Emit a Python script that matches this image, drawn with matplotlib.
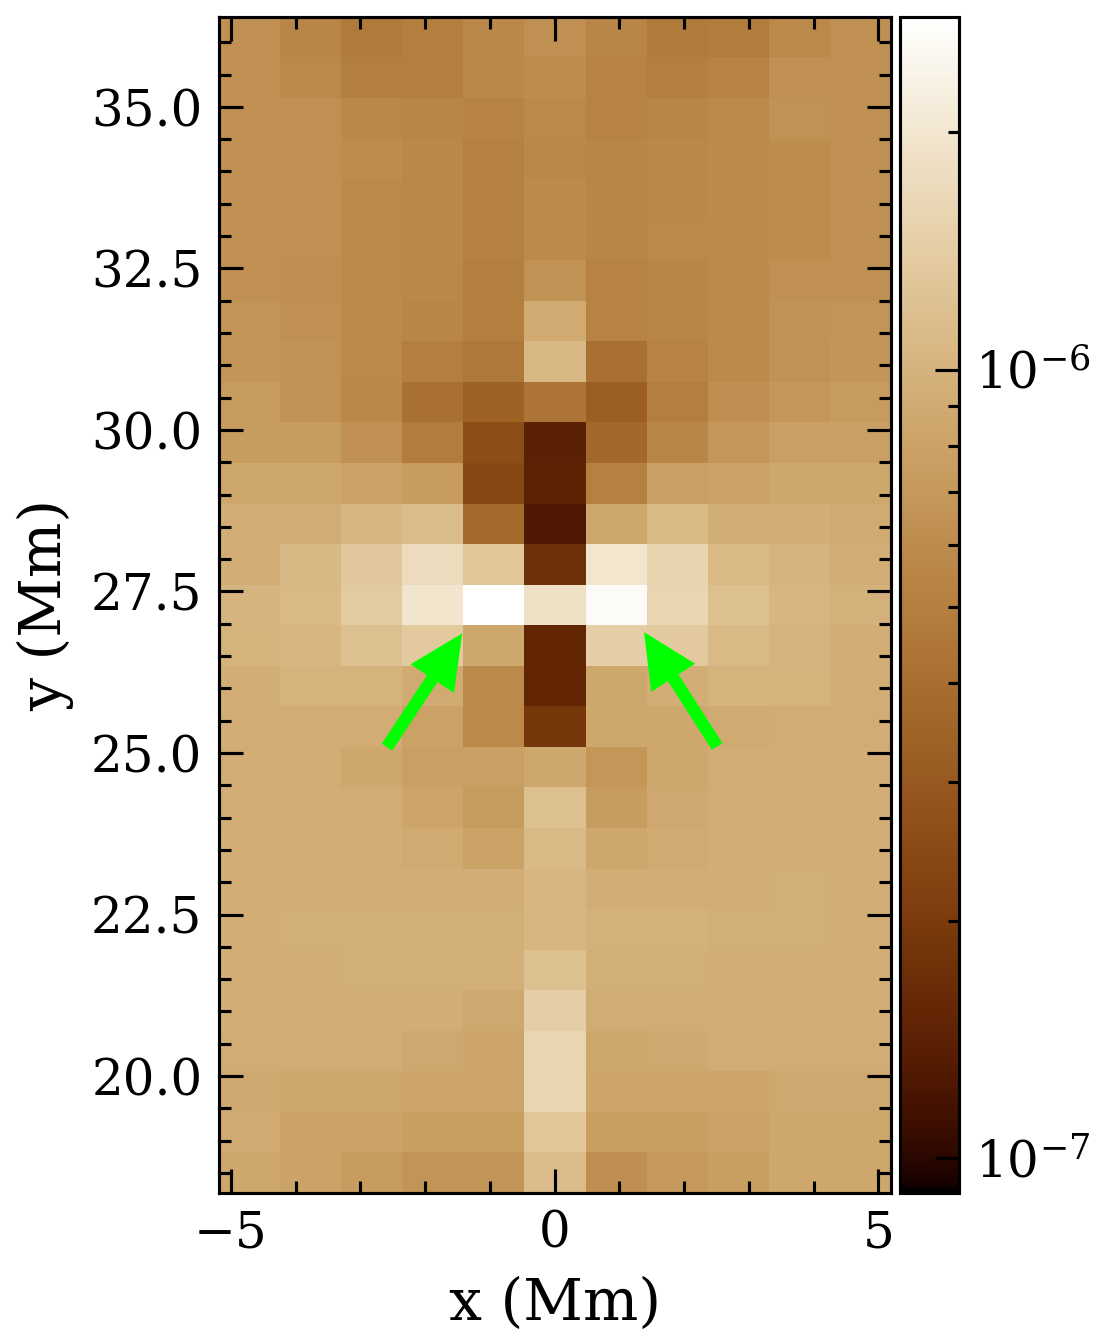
import numpy as np
import matplotlib
matplotlib.use("Agg")
import matplotlib.pyplot as plt
from matplotlib.colors import LogNorm, ListedColormap
from matplotlib.ticker import MultipleLocator, LogLocator, NullFormatter

# log10(intensity), rows from the top of the map to the bottom
log_intensity = [
    [-6.20, -6.26, -6.33, -6.31, -6.25, -6.20, -6.26, -6.33, -6.32, -6.24, -6.20],
    [-6.20, -6.24, -6.30, -6.30, -6.25, -6.22, -6.28, -6.30, -6.28, -6.20, -6.20],
    [-6.20, -6.20, -6.25, -6.26, -6.28, -6.24, -6.28, -6.26, -6.24, -6.19, -6.20],
    [-6.20, -6.20, -6.22, -6.25, -6.29, -6.25, -6.26, -6.25, -6.23, -6.22, -6.20],
    [-6.20, -6.20, -6.23, -6.25, -6.29, -6.23, -6.26, -6.25, -6.23, -6.22, -6.20],
    [-6.20, -6.20, -6.23, -6.25, -6.29, -6.23, -6.26, -6.24, -6.23, -6.22, -6.20],
    [-6.20, -6.21, -6.23, -6.25, -6.30, -6.19, -6.28, -6.26, -6.23, -6.20, -6.20],
    [-6.18, -6.20, -6.23, -6.26, -6.30, -6.05, -6.28, -6.26, -6.23, -6.19, -6.18],
    [-6.17, -6.19, -6.24, -6.31, -6.34, -5.97, -6.39, -6.28, -6.23, -6.19, -6.17],
    [-6.14, -6.19, -6.25, -6.39, -6.47, -6.36, -6.49, -6.31, -6.21, -6.16, -6.14],
    [-6.13, -6.13, -6.20, -6.32, -6.59, -6.85, -6.43, -6.26, -6.16, -6.11, -6.11],
    [-6.07, -6.07, -6.09, -6.13, -6.62, -6.84, -6.29, -6.11, -6.09, -6.07, -6.07],
    [-6.03, -6.04, -5.98, -5.94, -6.42, -6.90, -6.07, -5.96, -6.03, -6.03, -6.05],
    [-6.03, -5.97, -5.88, -5.76, -5.89, -6.76, -5.70, -5.81, -5.96, -5.99, -6.04],
    [-5.99, -5.96, -5.86, -5.71, -5.55, -5.73, -5.58, -5.80, -5.92, -5.98, -6.01],
    [-6.00, -5.98, -5.92, -5.87, -6.07, -6.82, -5.84, -5.87, -5.96, -5.99, -6.03],
    [-6.03, -6.00, -6.00, -6.05, -6.24, -6.82, -6.07, -6.03, -6.00, -6.00, -6.04],
    [-6.03, -6.04, -6.04, -6.10, -6.24, -6.72, -6.07, -6.07, -6.05, -6.04, -6.04],
    [-6.04, -6.04, -6.07, -6.11, -6.11, -6.07, -6.16, -6.07, -6.04, -6.03, -6.03],
    [-6.04, -6.03, -6.04, -6.08, -6.14, -5.92, -6.13, -6.06, -6.04, -6.03, -6.03],
    [-6.03, -6.03, -6.03, -6.05, -6.10, -5.96, -6.07, -6.05, -6.03, -6.03, -6.03],
    [-6.03, -6.03, -6.03, -6.03, -6.03, -5.98, -6.03, -6.03, -6.03, -6.02, -6.03],
    [-6.03, -6.02, -6.02, -6.02, -6.02, -5.98, -6.01, -6.01, -6.02, -6.02, -6.03],
    [-6.03, -6.03, -6.02, -6.02, -6.02, -5.92, -6.02, -6.02, -6.03, -6.03, -6.03],
    [-6.03, -6.03, -6.03, -6.03, -6.06, -5.84, -6.04, -6.04, -6.03, -6.03, -6.03],
    [-6.04, -6.04, -6.04, -6.06, -6.08, -5.80, -6.07, -6.06, -6.04, -6.04, -6.04],
    [-6.06, -6.07, -6.07, -6.08, -6.08, -5.80, -6.08, -6.08, -6.08, -6.06, -6.06],
    [-6.05, -6.09, -6.09, -6.12, -6.12, -5.89, -6.12, -6.12, -6.09, -6.07, -6.07],
    [-6.07, -6.09, -6.13, -6.18, -6.18, -5.95, -6.21, -6.15, -6.12, -6.07, -6.07],
]
x_ticks = [-5, 0, 5]
y_ticks = [20.0, 22.5, 25.0, 27.5, 30.0, 32.5, 35.0]
x_limits = (-5.19, 5.19)
y_limits = (18.19, 36.39)
color_limits = (9.03e-8, 2.8e-6)
arrow_tails = [(-2.59, 25.09), (2.51, 25.10)]
arrow_tips = [(-1.43, 26.85), (1.38, 26.87)]

W, H = 1101, 1343
plt.rcParams["font.family"] = "DejaVu Serif"
plt.rcParams["mathtext.fontset"] = "dejavuserif"

# SDO/AIA 193-style gold colour table
c0 = np.arange(256.0)
cmap = ListedColormap(np.c_[np.sqrt(c0 * 255), c0, c0 ** 2 / 255] / 255)

fig = plt.figure(figsize=(W / 300, H / 300), dpi=300)


def box(l, t, r, b):
    return [l / W, 1 - b / H, (r - l) / W, (b - t) / H]


ax = fig.add_axes(box(218.7, 17, 890.7, 1193))
cax = fig.add_axes(box(899.5, 17, 958.6, 1193))

im = ax.imshow(10.0 ** np.array(log_intensity), cmap=cmap,
               norm=LogNorm(*color_limits), origin="upper",
               extent=[*x_limits, *y_limits], aspect="auto",
               interpolation="nearest")
ax.set_xlim(*x_limits)
ax.set_ylim(*y_limits)
ax.set_xticks(x_ticks)
ax.set_yticks(y_ticks)
ax.set_yticklabels([f"{v:.1f}" for v in y_ticks])
ax.xaxis.set_minor_locator(MultipleLocator(1))
ax.yaxis.set_minor_locator(MultipleLocator(0.5))
ax.tick_params(which="both", direction="in", top=True, right=True, width=0.75, labelsize=12)
ax.tick_params(which="major", length=5.8, pad=3.9)
ax.tick_params(which="minor", length=2.9)
ax.set_xlabel("x (Mm)", fontsize=14, labelpad=4.1)
ax.set_ylabel("y (Mm)", fontsize=14, labelpad=4.0)
for s in ax.spines.values():
    s.set_linewidth(0.75)

for tail, tip in zip(arrow_tails, arrow_tips):
    ax.annotate("", xy=tip, xytext=tail,
                arrowprops=dict(facecolor="#00ff00", edgecolor="none", width=3,
                                headwidth=12.5, headlength=13))

cb = fig.colorbar(im, cax=cax)
cb.outline.set_linewidth(0.75)
cax.yaxis.set_major_locator(LogLocator(base=10))
cax.yaxis.set_minor_locator(LogLocator(base=10, subs=range(2, 10)))
cax.yaxis.set_minor_formatter(NullFormatter())
cax.tick_params(which="both", direction="in", right=True, width=0.75, labelsize=12)
cax.tick_params(which="major", length=5.8, pad=4)
cax.tick_params(which="minor", length=2.7)

fig.savefig("out.png", dpi=300)
